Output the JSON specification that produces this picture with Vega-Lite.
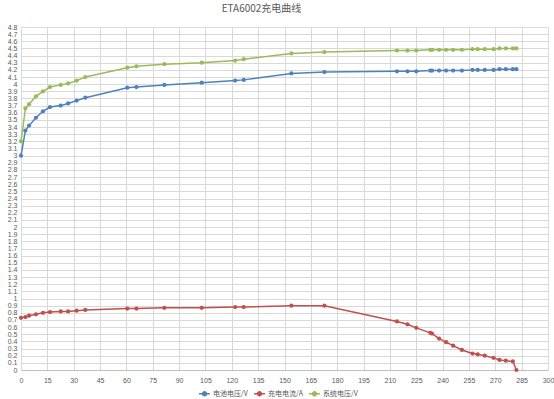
{
  "$schema": "https://vega.github.io/schema/vega-lite/v6.json",
  "width": 527,
  "height": 343,
  "autosize": "none",
  "padding": {"left": 21, "top": 27, "right": 6, "bottom": 29},
  "background": "white",
  "title": {"text": "ETA6002充电曲线", "font": "Noto Sans CJK SC", "fontSize": 10, "fontWeight": "normal", "color": "#595959", "anchor": "middle", "dx": -23, "offset": 9},
  "config": {
    "view": {"stroke": null},
    "axis": {"gridColor": "#D9D9D9", "gridWidth": 1, "labelColor": "#595959", "labelFont": "Liberation Sans", "labelFontSize": 7, "ticks": false, "title": null, "domain": false}
  },
  "data": {"values": [
    {"t": 0, "s": "电池电压/V", "v": 3.00}, {"t": 2.5, "s": "电池电压/V", "v": 3.35}, {"t": 4.6, "s": "电池电压/V", "v": 3.42}, {"t": 8.5, "s": "电池电压/V", "v": 3.53}, {"t": 12.5, "s": "电池电压/V", "v": 3.62}, {"t": 16.5, "s": "电池电压/V", "v": 3.68}, {"t": 22.6, "s": "电池电压/V", "v": 3.70}, {"t": 26.8, "s": "电池电压/V", "v": 3.73}, {"t": 31.7, "s": "电池电压/V", "v": 3.77}, {"t": 36.6, "s": "电池电压/V", "v": 3.81}, {"t": 60.5, "s": "电池电压/V", "v": 3.95}, {"t": 65.7, "s": "电池电压/V", "v": 3.96}, {"t": 81.6, "s": "电池电压/V", "v": 3.99}, {"t": 102.9, "s": "电池电压/V", "v": 4.02}, {"t": 121.9, "s": "电池电压/V", "v": 4.05}, {"t": 126.8, "s": "电池电压/V", "v": 4.06}, {"t": 153.9, "s": "电池电压/V", "v": 4.15}, {"t": 172.7, "s": "电池电压/V", "v": 4.17}, {"t": 214, "s": "电池电压/V", "v": 4.18}, {"t": 220, "s": "电池电压/V", "v": 4.18}, {"t": 225, "s": "电池电压/V", "v": 4.18}, {"t": 233, "s": "电池电压/V", "v": 4.19}, {"t": 234, "s": "电池电压/V", "v": 4.19}, {"t": 238, "s": "电池电压/V", "v": 4.19}, {"t": 242, "s": "电池电压/V", "v": 4.19}, {"t": 246, "s": "电池电压/V", "v": 4.19}, {"t": 251, "s": "电池电压/V", "v": 4.19}, {"t": 257, "s": "电池电压/V", "v": 4.20}, {"t": 260, "s": "电池电压/V", "v": 4.20}, {"t": 264, "s": "电池电压/V", "v": 4.20}, {"t": 269, "s": "电池电压/V", "v": 4.20}, {"t": 272.4, "s": "电池电压/V", "v": 4.21}, {"t": 276, "s": "电池电压/V", "v": 4.21}, {"t": 280, "s": "电池电压/V", "v": 4.21}, {"t": 282, "s": "电池电压/V", "v": 4.21},
    {"t": 0, "s": "充电电流/A", "v": 0.73}, {"t": 2.5, "s": "充电电流/A", "v": 0.74}, {"t": 4.6, "s": "充电电流/A", "v": 0.76}, {"t": 8.5, "s": "充电电流/A", "v": 0.78}, {"t": 12.5, "s": "充电电流/A", "v": 0.80}, {"t": 16.5, "s": "充电电流/A", "v": 0.81}, {"t": 22.6, "s": "充电电流/A", "v": 0.82}, {"t": 26.8, "s": "充电电流/A", "v": 0.82}, {"t": 31.7, "s": "充电电流/A", "v": 0.83}, {"t": 36.6, "s": "充电电流/A", "v": 0.84}, {"t": 60.5, "s": "充电电流/A", "v": 0.86}, {"t": 65.7, "s": "充电电流/A", "v": 0.86}, {"t": 81.6, "s": "充电电流/A", "v": 0.87}, {"t": 102.9, "s": "充电电流/A", "v": 0.87}, {"t": 121.9, "s": "充电电流/A", "v": 0.88}, {"t": 126.8, "s": "充电电流/A", "v": 0.88}, {"t": 153.9, "s": "充电电流/A", "v": 0.90}, {"t": 172.7, "s": "充电电流/A", "v": 0.90}, {"t": 214, "s": "充电电流/A", "v": 0.68}, {"t": 220, "s": "充电电流/A", "v": 0.64}, {"t": 225, "s": "充电电流/A", "v": 0.59}, {"t": 233, "s": "充电电流/A", "v": 0.52}, {"t": 234, "s": "充电电流/A", "v": 0.51}, {"t": 238, "s": "充电电流/A", "v": 0.44}, {"t": 242, "s": "充电电流/A", "v": 0.39}, {"t": 246, "s": "充电电流/A", "v": 0.34}, {"t": 251, "s": "充电电流/A", "v": 0.28}, {"t": 257, "s": "充电电流/A", "v": 0.23}, {"t": 260, "s": "充电电流/A", "v": 0.22}, {"t": 264, "s": "充电电流/A", "v": 0.20}, {"t": 269, "s": "充电电流/A", "v": 0.17}, {"t": 272.4, "s": "充电电流/A", "v": 0.14}, {"t": 276, "s": "充电电流/A", "v": 0.13}, {"t": 280, "s": "充电电流/A", "v": 0.12}, {"t": 282, "s": "充电电流/A", "v": 0.0},
    {"t": 0, "s": "系统电压/V", "v": 3.20}, {"t": 2.5, "s": "系统电压/V", "v": 3.66}, {"t": 4.6, "s": "系统电压/V", "v": 3.72}, {"t": 8.5, "s": "系统电压/V", "v": 3.83}, {"t": 12.5, "s": "系统电压/V", "v": 3.90}, {"t": 16.5, "s": "系统电压/V", "v": 3.96}, {"t": 22.6, "s": "系统电压/V", "v": 3.99}, {"t": 26.8, "s": "系统电压/V", "v": 4.01}, {"t": 31.7, "s": "系统电压/V", "v": 4.05}, {"t": 36.6, "s": "系统电压/V", "v": 4.10}, {"t": 60.5, "s": "系统电压/V", "v": 4.23}, {"t": 65.7, "s": "系统电压/V", "v": 4.25}, {"t": 81.6, "s": "系统电压/V", "v": 4.28}, {"t": 102.9, "s": "系统电压/V", "v": 4.30}, {"t": 121.9, "s": "系统电压/V", "v": 4.33}, {"t": 126.8, "s": "系统电压/V", "v": 4.35}, {"t": 153.9, "s": "系统电压/V", "v": 4.43}, {"t": 172.7, "s": "系统电压/V", "v": 4.45}, {"t": 214, "s": "系统电压/V", "v": 4.47}, {"t": 220, "s": "系统电压/V", "v": 4.47}, {"t": 225, "s": "系统电压/V", "v": 4.47}, {"t": 233, "s": "系统电压/V", "v": 4.48}, {"t": 234, "s": "系统电压/V", "v": 4.48}, {"t": 238, "s": "系统电压/V", "v": 4.48}, {"t": 242, "s": "系统电压/V", "v": 4.48}, {"t": 246, "s": "系统电压/V", "v": 4.48}, {"t": 251, "s": "系统电压/V", "v": 4.48}, {"t": 257, "s": "系统电压/V", "v": 4.49}, {"t": 260, "s": "系统电压/V", "v": 4.49}, {"t": 264, "s": "系统电压/V", "v": 4.49}, {"t": 269, "s": "系统电压/V", "v": 4.49}, {"t": 272.4, "s": "系统电压/V", "v": 4.50}, {"t": 276, "s": "系统电压/V", "v": 4.50}, {"t": 280, "s": "系统电压/V", "v": 4.50}, {"t": 282, "s": "系统电压/V", "v": 4.50}
  ]},
  "encoding": {
    "x": {"field": "t", "type": "quantitative", "scale": {"domain": [0, 300], "nice": false, "zero": true},
      "axis": {"values": [0, 15, 30, 45, 60, 75, 90, 105, 120, 135, 150, 165, 180, 195, 210, 225, 240, 255, 270, 285, 300], "labelPadding": 6, "domain": true, "domainColor": "#BFBFBF", "labelFlush": false}},
    "y": {"field": "v", "type": "quantitative", "scale": {"domain": [0, 4.8], "nice": false},
      "axis": {"tickCount": 48, "format": ".1~f", "labelPadding": 4, "labelOverlap": false, "labelFlush": false}},
    "color": {"field": "s", "type": "nominal", "sort": ["电池电压/V", "充电电流/A", "系统电压/V"],
      "scale": {"domain": ["电池电压/V", "充电电流/A", "系统电压/V"], "range": ["#4F81BD", "#C0504D", "#9BBB59"]},
      "legend": {"title": null, "orient": "none", "direction": "horizontal", "legendX": 177, "legendY": 360, "labelFont": "Noto Sans CJK SC", "labelFontSize": 7, "labelColor": "#595959", "symbolType": "M-1,0L1,0M-0.35,0A0.35,0.35,0,1,1,0.35,0A0.35,0.35,0,1,1,-0.35,0Z", "symbolSize": 120, "symbolStrokeWidth": 1.5, "columnPadding": 3, "labelOffset": 2}}
  },
  "layer": [
    {"mark": {"type": "line", "strokeWidth": 1.5}},
    {"mark": {"type": "point", "filled": true, "size": 18, "opacity": 1}}
  ]
}
